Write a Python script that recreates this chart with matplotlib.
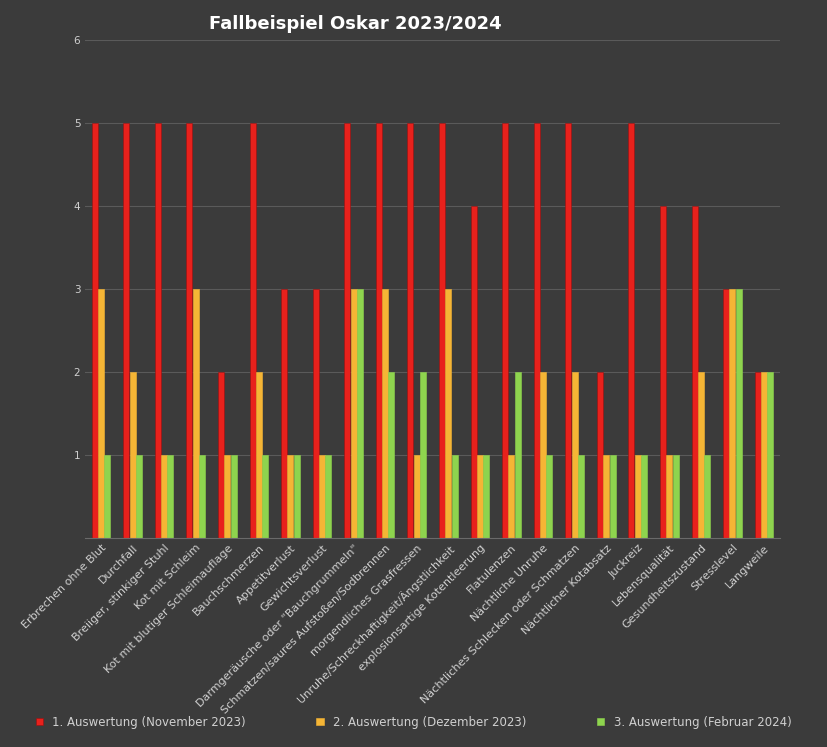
import numpy as np
import matplotlib.pyplot as plt

categories = ["Erbrechen ohne Blut", "Durchfall", "Breiiger, stinkiger Stuhl", "Kot mit Schleim",
              "Kot mit blutiger Schleimauflage", "Bauchschmerzen", "Appetitverlust", "Gewichtsverlust",
              "Darmgeräusche oder \"Bauchgrummeln\"", "Schmatzen/saures Aufstoßen/Sodbrennen",
              "morgendliches Grasfressen", "Unruhe/Schreckhaftigkeit/Ängstlichkeit",
              "explosionsartige Kotentleerung", "Flatulenzen", "Nächtliche Unruhe",
              "Nächtliches Schlecken oder Schmatzen", "Nächtlicher Kotabsatz", "Juckreiz",
              "Lebensqualität", "Gesundheitszustand", "Stresslevel", "Langweile"]
nov_2023 = [5, 5, 5, 5, 2, 5, 3, 3, 5, 5, 5, 5, 4, 5, 5, 5, 2, 5, 4, 4, 3, 2]
dez_2023 = [3, 2, 1, 3, 1, 2, 1, 1, 3, 3, 1, 3, 1, 1, 2, 2, 1, 1, 1, 2, 3, 2]
feb_2024 = [1, 1, 1, 1, 1, 1, 1, 1, 3, 2, 2, 1, 1, 2, 1, 1, 1, 1, 1, 1, 3, 2]
series_names = ["1. Auswertung (November 2023)", "2. Auswertung (Dezember 2023)", "3. Auswertung (Februar 2024)"]
colors = ["#e8211c", "#f5b535", "#8ed44e"]

bg = "#3b3b3b"
fig = plt.figure(figsize=(8.27, 7.47), dpi=100, facecolor=bg)
ax = fig.add_axes([0.103, 0.28, 0.84, 0.667], facecolor=bg)

x = np.arange(len(categories))
w = 0.2
for i, (vals, name, c) in enumerate(zip([nov_2023, dez_2023, feb_2024], series_names, colors)):
    ax.bar(x + (i - 1) * w, vals, w * 0.95, color=c, edgecolor="#9a1010" if i == 0 else c,
           linewidth=0.4, label=name)

ax.set_ylim(0, 6)
ax.set_xlim(-0.5, len(categories) - 0.5)
ax.set_yticks(range(1, 7))
ax.yaxis.grid(True, color="#5a5a5a", linewidth=0.8)
ax.set_axisbelow(True)
for s in ["left", "right", "top"]:
    ax.spines[s].set_visible(False)
ax.spines["bottom"].set_color("#6a6a6a")
ax.tick_params(axis="y", length=0, colors="#d0d0d0", labelsize=7.5)
ax.tick_params(axis="x", length=0, colors="#d0d0d0", labelsize=8)
ax.set_xticks(x)
ax.set_xticklabels(categories, rotation=45, ha="right", rotation_mode="anchor")

fig.text(0.43, 0.968, "Fallbeispiel Oskar 2023/2024", color="white", fontsize=13,
         fontweight="bold", ha="center", va="center")
fig.legend(loc="lower center", bbox_to_anchor=(0.5, 0.01), ncol=3, frameon=False,
           fontsize=8.5, labelcolor="#d0d0d0", handlelength=0.6, handleheight=0.6,
           columnspacing=6)

plt.savefig("out.png", dpi=100, facecolor=bg)
